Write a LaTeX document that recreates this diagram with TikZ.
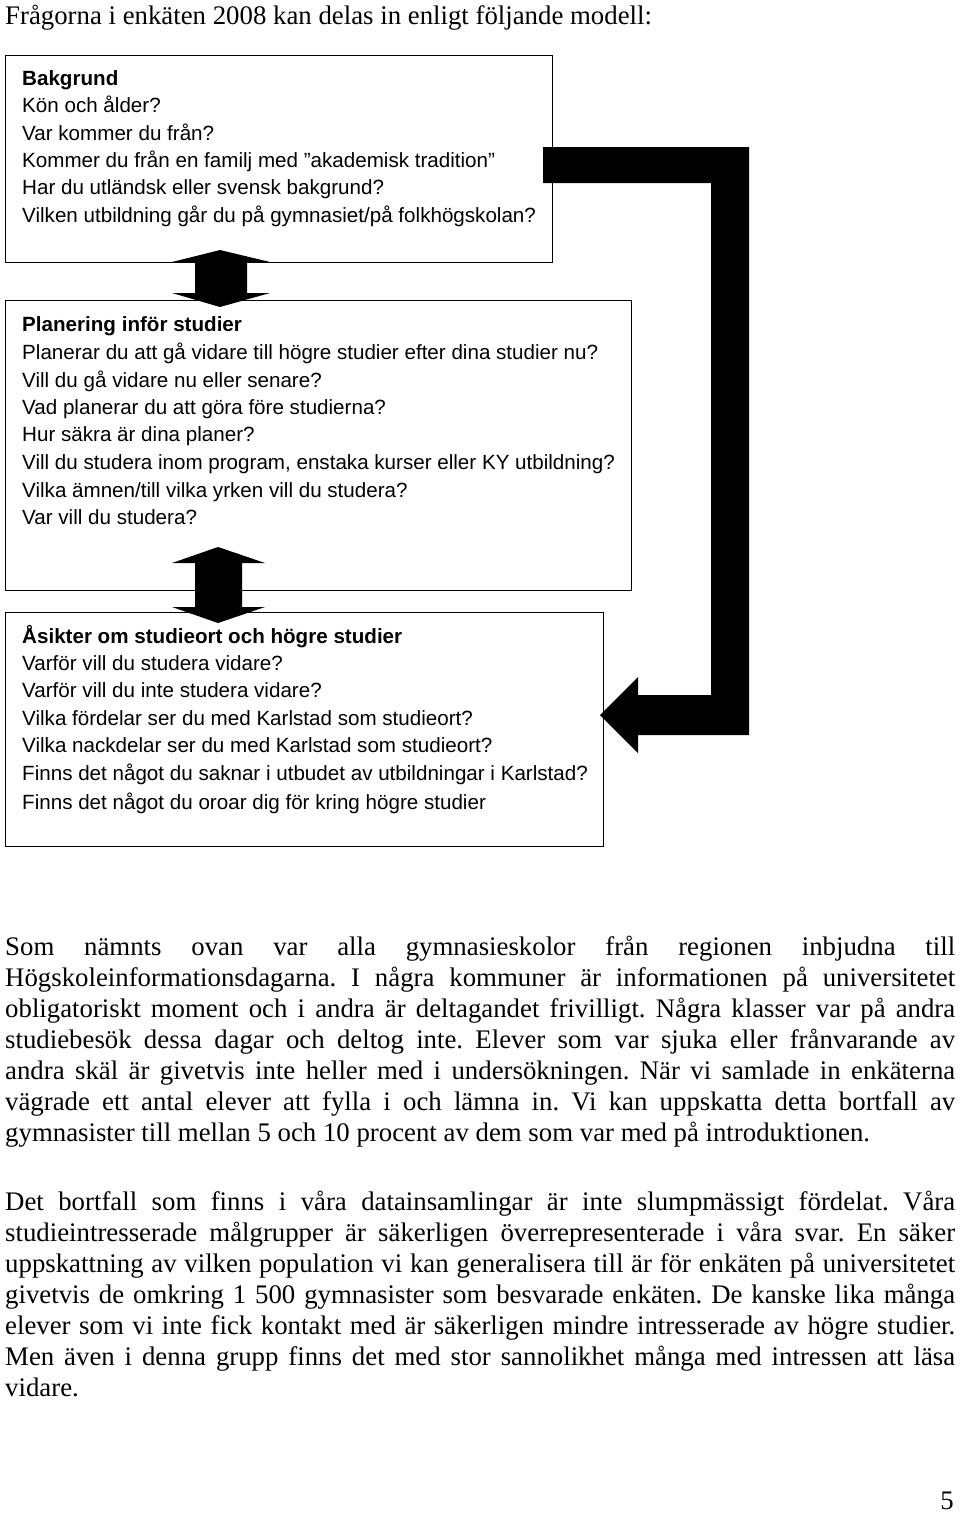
\documentclass[tikz,border=0pt]{standalone}
\usepackage{fontspec}
\setmainfont{Liberation Serif}
\newfontfamily\arialf{Liberation Sans}
\frenchspacing
\begin{document}
\begin{tikzpicture}[x=1pt,y=-1pt,
  boxst/.style={draw=black,line width=1.4pt,inner sep=0pt,anchor=north west},
  qline/.style={inner sep=0pt,anchor=base west,font=\arialf\fontsize{20.6}{24}\selectfont},
  hline/.style={qline,font=\arialf\bfseries\fontsize{20.6}{24}\selectfont},
  pline/.style={inner sep=0pt,anchor=base west,font=\fontsize{26.8}{31}\selectfont},
  bigarrow/.style={fill=black,draw=none}]
\useasboundingbox (0,0) rectangle (960,1513);
% title
\node[pline] (title) at (5,24) {Frågorna i enkäten 2008 kan delas in enligt följande modell:};
% boxes
\node[boxst,minimum width=547pt,minimum height=207pt] (b1) at (5,55) {};
\node[boxst,minimum width=626pt,minimum height=290pt] (b2) at (5,300) {};
\node[boxst,minimum width=598pt,minimum height=234pt] (b3) at (5,612) {};
% box 1 text
\node[hline] (t11) at (22,85) {Bakgrund};
\node[qline] (t12) at (22,112) {Kön och ålder?};
\node[qline] (t13) at (22,140) {Var kommer du från?};
\node[qline] (t14) at (22,167) {Kommer du från en familj med ”akademisk tradition”};
\node[qline] (t15) at (22,194) {Har du utländsk eller svensk bakgrund?};
\node[qline] (t16) at (22,222) {Vilken utbildning går du på gymnasiet/på folkhögskolan?};
% box 2 text
\node[hline] (t21) at (22,331) {Planering inför studier};
\node[qline] (t22) at (22,359) {Planerar du att gå vidare till högre studier efter dina studier nu?};
\node[qline] (t23) at (22,387) {Vill du gå vidare nu eller senare?};
\node[qline] (t24) at (22,414) {Vad planerar du att göra före studierna?};
\node[qline] (t25) at (22,441) {Hur säkra är dina planer?};
\node[qline] (t26) at (22,469) {Vill du studera inom program, enstaka kurser eller KY utbildning?};
\node[qline] (t27) at (22,497) {Vilka ämnen/till vilka yrken vill du studera?};
\node[qline] (t28) at (22,524) {Var vill du studera?};
% box 3 text
\node[hline] (t31) at (22,643) {Åsikter om studieort och högre studier};
\node[qline] (t32) at (22,670) {Varför vill du studera vidare?};
\node[qline] (t33) at (22,697) {Varför vill du inte studera vidare?};
\node[qline] (t34) at (22,725) {Vilka fördelar ser du med Karlstad som studieort?};
\node[qline] (t35) at (22,752) {Vilka nackdelar ser du med Karlstad som studieort?};
\node[qline] (t36) at (22,780) {Finns det något du saknar i utbudet av utbildningar i Karlstad?};
\node[qline] (t37) at (22,809) {Finns det något du oroar dig för kring högre studier};
% double arrow b1 <-> b2
\fill[bigarrow] (220,250) -- (270,262) -- (247,262) -- (247,293) -- (270,293) -- (220,307)
  -- (172,293) -- (195,293) -- (195,262) -- (172,262) -- cycle;
% double arrow b2 <-> b3
\fill[bigarrow] (218,547) -- (265,563) -- (242,563) -- (242,607) -- (265,607) -- (218,623)
  -- (172,607) -- (195,607) -- (195,563) -- (172,563) -- cycle;
% L-shaped arrow b1 -> b3
\fill[bigarrow] (543,147) -- (749,147) -- (749,735) -- (638,735) -- (638,753) -- (600,715)
  -- (638,677) -- (638,695) -- (711,695) -- (711,183) -- (543,183) -- cycle;
% paragraph 1
\node[pline] (p11) at (5,955) {\makebox[950pt][s]{Som nämnts ovan var alla gymnasieskolor från regionen inbjudna till}};
\node[pline] (p12) at (5,986) {\makebox[950pt][s]{Högskoleinformationsdagarna. I några kommuner är informationen på universitetet}};
\node[pline] (p13) at (5,1017) {\makebox[950pt][s]{obligatoriskt moment och i andra är deltagandet frivilligt. Några klasser var på andra}};
\node[pline] (p14) at (5,1048) {\makebox[950pt][s]{studiebesök dessa dagar och deltog inte. Elever som var sjuka eller frånvarande av}};
\node[pline] (p15) at (5,1079) {\makebox[950pt][s]{andra skäl är givetvis inte heller med i undersökningen. När vi samlade in enkäterna}};
\node[pline] (p16) at (5,1110) {\makebox[950pt][s]{vägrade ett antal elever att fylla i och lämna in. Vi kan uppskatta detta bortfall av}};
\node[pline] (p17) at (5,1141) {gymnasister till mellan 5 och 10 procent av dem som var med på introduktionen.};
% paragraph 2
\node[pline] (p21) at (5,1210) {\makebox[950pt][s]{Det bortfall som finns i våra datainsamlingar är inte slumpmässigt fördelat. Våra}};
\node[pline] (p22) at (5,1241) {\makebox[950pt][s]{studieintresserade målgrupper är säkerligen överrepresenterade i våra svar. En säker}};
\node[pline] (p23) at (5,1272) {\makebox[950pt][s]{uppskattning av vilken population vi kan generalisera till är för enkäten på universitetet}};
\node[pline] (p24) at (5,1303) {\makebox[950pt][s]{givetvis de omkring 1 500 gymnasister som besvarade enkäten. De kanske lika många}};
\node[pline] (p25) at (5,1334) {\makebox[950pt][s]{elever som vi inte fick kontakt med är säkerligen mindre intresserade av högre studier.}};
\node[pline] (p26) at (5,1365) {\makebox[950pt][s]{Men även i denna grupp finns det med stor sannolikhet många med intressen att läsa}};
\node[pline] (p27) at (5,1396) {vidare.};
% page number
\node[pline,anchor=base east] (pnum) at (954,1509) {5};
\end{tikzpicture}
\end{document}
